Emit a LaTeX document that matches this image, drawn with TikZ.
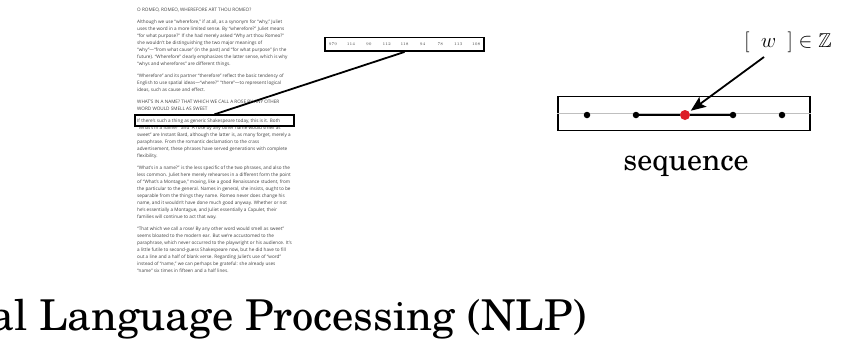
\documentclass[tikz,border=0pt]{standalone}
\usepackage{amssymb}
\usepackage{fontspec}
\newfontfamily\docfont{Open Sans}
\newfontfamily\schfont{TeX Gyre Schola}
\usetikzlibrary{arrows.meta,shadows}
\definecolor{redpt}{RGB}{220,30,40}
\definecolor{doctext}{RGB}{65,65,65}
\tikzset{
  softshadow/.style={drop shadow={shadow xshift=0.8pt,shadow yshift=-0.8pt,opacity=0.25,fill=black}},
  framebox/.style={draw=black,line width=1.8pt,inner sep=0pt},
  numtxt/.style={font=\fontsize{4}{4}\selectfont,text=black!70,inner sep=0pt},
  dot/.style={circle,fill=black,inner sep=0pt,minimum size=6.5pt},
  reddot/.style={circle,fill=redpt,inner sep=0pt,minimum size=10pt},
  link/.style={line width=1.8pt,black},
  axisline/.style={line width=0.5pt,black!25},
  pointer/.style={line width=1.8pt,-{Stealth[length=15pt,width=12pt,inset=3pt]},shorten >=2pt}
}
\begin{document}
\begin{tikzpicture}[x=1pt,y=-1pt]
\clip (0,0) rectangle (856,341);
\useasboundingbox (0,0) rectangle (856,341);
\fill[white] (0,0) rectangle (856,341);

% document text
\node[anchor=north west,inner sep=0pt,align=left,text=doctext,
      font=\docfont\fontsize{4.65}{7}\selectfont] (doc) at (137,7.6) {%
O ROMEO, ROMEO, WHEREFORE ART THOU ROMEO?\\[5pt]
Although we use “wherefore,” if at all, as a synonym for “why,” Juliet\\
uses the word in a more limited sense. By “wherefore?” Juliet means\\
“for what purpose?” If she had merely asked “Why art thou Romeo?”\\
she wouldn’t be distinguishing the two major meanings of\\
“why”—“from what cause” (in the past) and “for what purpose” (in the\\
future). “Wherefore” clearly emphasizes the latter sense, which is why\\
“whys and wherefores” are different things.\\[5pt]
“Wherefore” and its partner “therefore” reflect the basic tendency of\\
English to use spatial ideas—“where?” “there”—to represent logical\\
ideas, such as cause and effect.\\[5pt]
WHAT’S IN A NAME? THAT WHICH WE CALL A ROSE BY ANY OTHER\\
WORD WOULD SMELL AS SWEET\\[5pt]
If there’s such a thing as generic Shakespeare today, this is it. Both\\
“What’s in a name?” and “A rose by any other name would smell as\\
sweet” are Instant Bard, although the latter is, as many forget, merely a\\
paraphrase. From the romantic declamation to the crass\\
advertisement, these phrases have served generations with complete\\
flexibility.\\[5pt]
“What’s in a name?” is the less specific of the two phrases, and also the\\
less common. Juliet here merely rehearses in a different form the point\\
of “What’s a Montague,” moving, like a good Renaissance student, from\\
the particular to the general. Names in general, she insists, ought to be\\
separable from the things they name. Romeo never does change his\\
name, and it wouldn’t have done much good anyway. Whether or not\\
he’s essentially a Montague, and Juliet essentially a Capulet, their\\
families will continue to act that way.\\[5pt]
“That which we call a rose/ By any other word would smell as sweet”\\
seems bloated to the modern ear. But we’re accustomed to the\\
paraphrase, which never occurred to the playwright or his audience. It’s\\
a little futile to second-guess Shakespeare now, but he did have to fill\\
out a line and a half of blank verse. Regarding Juliet’s use of “word”\\
instead of “name,” we can perhaps be grateful: she already uses\\
“name” six times in fifteen and a half lines.};

% highlighted line
\node[framebox,minimum width=159pt,minimum height=10.5pt] (boxline) at (214.5,120.5) {};

% number box
\node[framebox,fill=white,softshadow,minimum width=159pt,minimum height=13.5pt] (numbox) at (404.5,44.3) {};
\foreach \v [count=\i] in {979,114,90,112,118,94,78,113,108}
  \node[numtxt] (n\i) at ({333+17.9*(\i-1)},44.5) {\v};

\draw[link] (numbox.south) -- (boxline.north);

% sequence
\node[draw=black,line width=1.5pt,fill=white,inner sep=0pt,softshadow,
      minimum width=252pt,minimum height=34pt] (seqbox) at (684,113.5) {};
\draw[axisline] (seqbox.west) -- (seqbox.east);
\node[dot] (d1) at (587,115) {};
\node[dot] (d2) at (636,115) {};
\node[reddot] (d3) at (685,115) {};
\node[dot] (d4) at (733,115) {};
\node[dot] (d5) at (782,115) {};
\draw[link] (d2) -- (d3);
\draw[link] (d3) -- (d4);

\node[inner sep=0pt,font=\fontsize{20}{24}\selectfont] (lab) at (788,42)
  {$\big[\;\;w\;\;\big]\in\mathbb{Z}$};
\coordinate (astart) at (764,57);
\draw[pointer] (astart) -- (d3);

\node[anchor=base,inner sep=0pt,font=\schfont\fontsize{30}{34}\selectfont] (seqlab) at (686,170) {sequence};

% title
\node[anchor=base east,inner sep=0pt,font=\schfont\fontsize{42.5}{48}\selectfont] (title) at (587,330)
  {Natural Language Processing (NLP)};
\end{tikzpicture}
\end{document}
